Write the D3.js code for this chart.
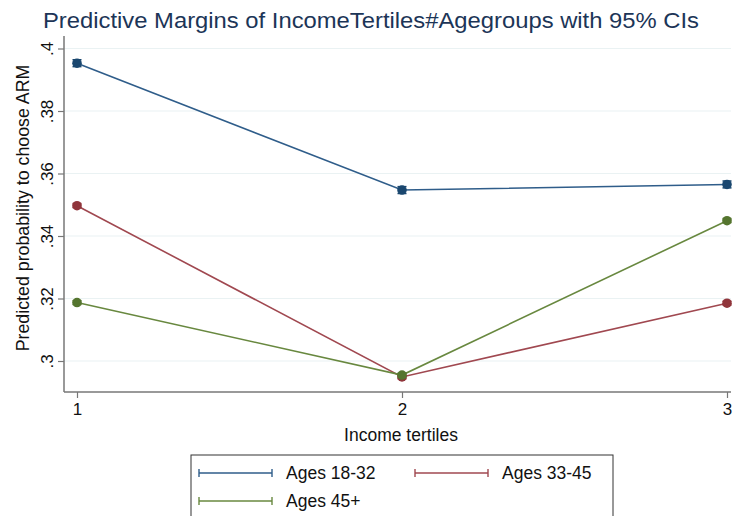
<!DOCTYPE html>
<html>
<head>
<meta charset="utf-8">
<script src="https://cdn.jsdelivr.net/npm/d3@7/dist/d3.min.js"></script>
<style>
  html, body { margin: 0; padding: 0; background: #fff; }
  svg { display: block; font-family: "Liberation Sans", Arial, sans-serif; }
</style>
</head>
<body>
<svg id="chart" width="733" height="516"></svg>
<script>
// Income tertiles on the x axis
const tertiles = [1, 2, 3];
const xTickLabels = ["1", "2", "3"];
const yTicks = [0.30, 0.32, 0.34, 0.36, 0.38, 0.40];
const yTickLabels = [".3", ".32", ".34", ".36", ".38", ".4"];

// Predicted margins by age group
const groups = ["Ages 18-32", "Ages 33-45", "Ages 45+"];
const ages18to32 = [0.3953, 0.3547, 0.3565];
const ages33to45 = [0.3497, 0.2949, 0.3185];
const ages45plus = [0.3187, 0.2955, 0.3449];
// 95% confidence interval half-widths
const ci18to32 = [0.0011, 0.0011, 0.0011];
const ci33to45 = [0.0006, 0.0006, 0.0006];
const ci45plus = [0.0006, 0.0006, 0.0006];

const colors = ["#1a476f", "#90353b", "#55752f"];
const lineColors = ["#2f5d8a", "#a04850", "#68883f"];

const series = [
  { name: groups[0], values: ages18to32, ci: ci18to32, color: colors[0], line: lineColors[0] },
  { name: groups[1], values: ages33to45, ci: ci33to45, color: colors[1], line: lineColors[1] },
  { name: groups[2], values: ages45plus, ci: ci45plus, color: colors[2], line: lineColors[2] }
];

const svg = d3.select("#chart");

const x = d3.scaleLinear().domain([1, 3]).range([77, 727]);
const y = d3.scaleLinear().domain([0.30, 0.40]).range([361, 48.5]);

const plotLeft = 64, plotRight = 731, plotTop = 36, plotBottom = 392;

// title
svg.append("text")
  .attr("x", 371).attr("y", 28)
  .attr("text-anchor", "middle")
  .attr("fill", "#1c3557")
  .attr("font-size", 22.5)
  .attr("textLength", 656)
  .attr("lengthAdjust", "spacingAndGlyphs")
  .text("Predictive Margins of IncomeTertiles#Agegroups with 95% CIs");

// gridlines
svg.append("g").selectAll("line").data(yTicks).join("line")
  .attr("x1", plotLeft).attr("x2", plotRight)
  .attr("y1", d => y(d)).attr("y2", d => y(d))
  .attr("stroke", "#eaf2f3").attr("stroke-width", 1.2);

// y axis
const yAxis = d3.axisLeft(y).tickValues(yTicks)
  .tickFormat((d, i) => yTickLabels[i]).tickSize(6).tickSizeOuter(0);
const gy = svg.append("g").attr("transform", `translate(${plotLeft},0)`).call(yAxis);
gy.select(".domain").remove();
gy.selectAll(".tick line").attr("stroke", "#777").attr("stroke-width", 1.2);
gy.selectAll(".tick text")
  .attr("font-size", 17).attr("fill", "#111")
  .attr("transform", "rotate(-90)")
  .attr("x", 0).attr("y", -11)
  .attr("dy", 0)
  .attr("text-anchor", "middle");
svg.append("line")
  .attr("x1", plotLeft).attr("x2", plotLeft)
  .attr("y1", plotTop).attr("y2", plotBottom)
  .attr("stroke", "#777").attr("stroke-width", 1.5);

// x axis
const xAxis = d3.axisBottom(x).tickValues(tertiles)
  .tickFormat((d, i) => xTickLabels[i]).tickSize(6).tickSizeOuter(0);
const gx = svg.append("g").attr("transform", `translate(0,${plotBottom})`).call(xAxis);
gx.select(".domain").remove();
gx.selectAll(".tick line").attr("stroke", "#777").attr("stroke-width", 1.2);
gx.selectAll(".tick text").attr("font-size", 17).attr("fill", "#111").attr("y", 11);
svg.append("line")
  .attr("x1", plotLeft).attr("x2", plotRight)
  .attr("y1", plotBottom).attr("y2", plotBottom)
  .attr("stroke", "#777").attr("stroke-width", 1.5);

// axis titles
svg.append("text")
  .attr("x", 401).attr("y", 441)
  .attr("text-anchor", "middle").attr("font-size", 17.5).attr("fill", "#111")
  .text("Income tertiles");
svg.append("text")
  .attr("transform", "translate(29,208) rotate(-90)")
  .attr("text-anchor", "middle").attr("font-size", 17.8).attr("fill", "#111")
  .text("Predicted probability to choose ARM");

// lines, confidence intervals and markers
const line = d3.line().x((d, i) => x(tertiles[i])).y(d => y(d));
const gs = svg.append("g").selectAll("g").data(series).join("g");
gs.append("path")
  .attr("d", d => line(d.values))
  .attr("fill", "none").attr("stroke", d => d.line).attr("stroke-width", 1.6);
gs.each(function (s) {
  const g = d3.select(this);
  s.values.forEach((v, i) => {
    const cx = x(tertiles[i]);
    const lo = y(v - s.ci[i]), hi = y(v + s.ci[i]);
    g.append("line").attr("x1", cx).attr("x2", cx).attr("y1", lo).attr("y2", hi)
      .attr("stroke", s.color).attr("stroke-width", 1.5);
    [lo, hi].forEach(yy => g.append("line")
      .attr("x1", cx - 4.5).attr("x2", cx + 4.5).attr("y1", yy).attr("y2", yy)
      .attr("stroke", s.color).attr("stroke-width", 1.5));
    g.append("circle").attr("cx", cx).attr("cy", y(v)).attr("r", 4.8)
      .attr("fill", s.color);
  });
});

// legend
const legend = svg.append("g");
legend.append("rect")
  .attr("x", 191).attr("y", 455).attr("width", 422).attr("height", 70)
  .attr("fill", "#fff").attr("stroke", "#333").attr("stroke-width", 1);
const legendPos = [
  { kx: 199, ty: 473 },
  { kx: 415, ty: 473 },
  { kx: 199, ty: 501 }
];
series.forEach((s, i) => {
  const p = legendPos[i];
  const g = legend.append("g");
  g.append("line").attr("x1", p.kx).attr("x2", p.kx + 73).attr("y1", p.ty).attr("y2", p.ty)
    .attr("stroke", s.line).attr("stroke-width", 1.6);
  [p.kx, p.kx + 73].forEach(xx => g.append("line")
    .attr("x1", xx).attr("x2", xx).attr("y1", p.ty - 4).attr("y2", p.ty + 4)
    .attr("stroke", s.line).attr("stroke-width", 1.4));
  g.append("text").attr("x", p.kx + 87).attr("y", p.ty + 6)
    .attr("font-size", 17.5).attr("fill", "#111").text(s.name);
});
</script>
</body>
</html>
